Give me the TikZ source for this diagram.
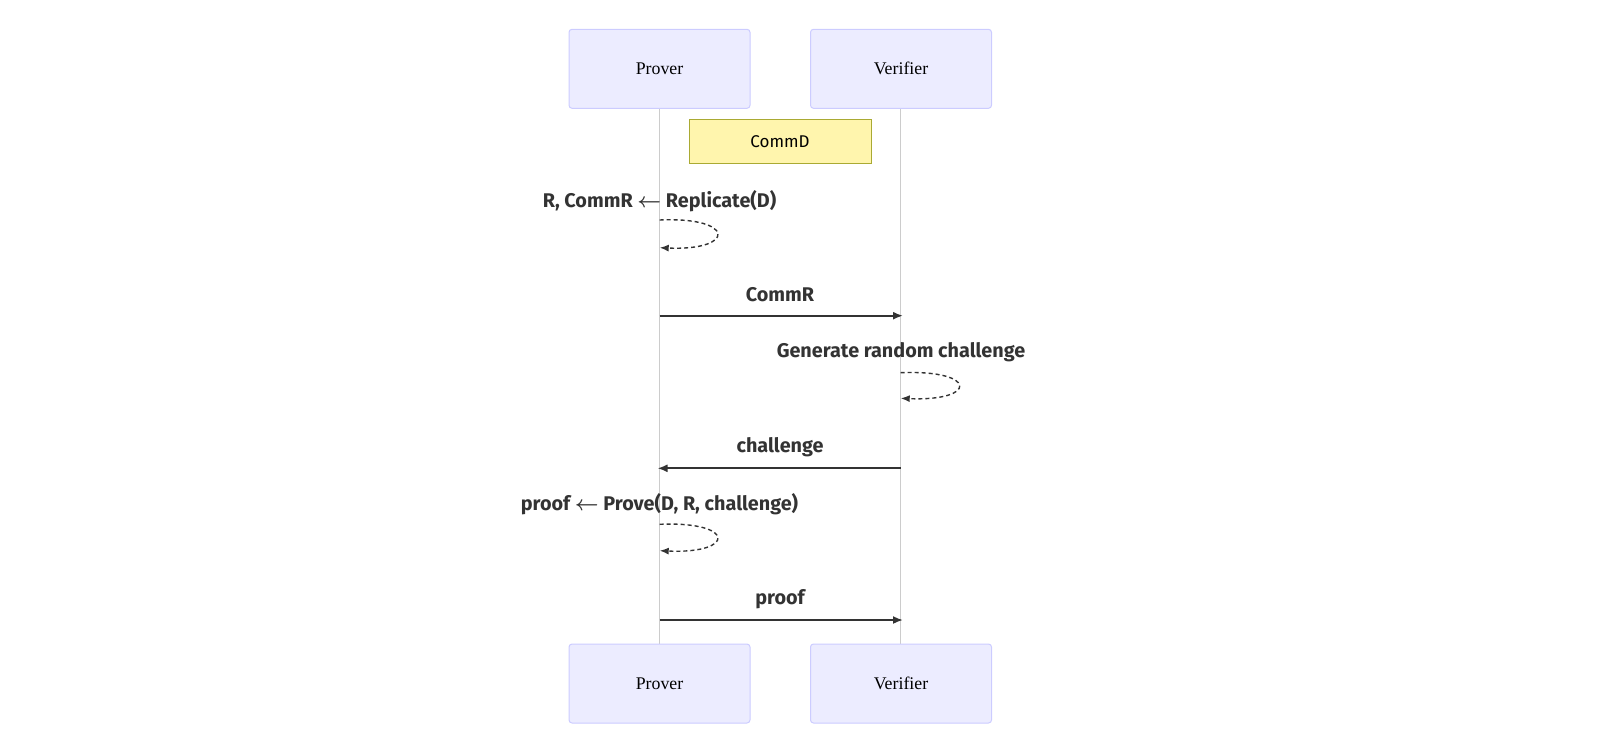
\documentclass[tikz,border=0pt]{standalone}
\usepackage{fontspec}
\setmainfont{Liberation Serif}
\newfontfamily\lblfont{Fira Sans}
\usetikzlibrary{arrows.meta}
\definecolor{actfill}{HTML}{ECECFF}
\definecolor{actline}{HTML}{CCCCFF}
\definecolor{lifeln}{HTML}{CCCCCC}
\definecolor{ink}{HTML}{333333}
\definecolor{notefill}{HTML}{FFF5AD}
\definecolor{noteline}{HTML}{AAAA33}
\tikzset{
  actor/.style={draw=actline, fill=actfill, rounded corners=3pt, line width=1pt,
    minimum width=181pt, minimum height=79pt, inner sep=0pt,
    font=\fontsize{17.8}{20}\selectfont, text=black},
  life/.style={draw=lifeln, line width=1.2pt},
  msg/.style={draw=ink, line width=1.8pt, -{Latex[length=10pt,width=8pt]}},
  selfmsg/.style={draw=ink, line width=1.4pt, dash pattern=on 4pt off 3pt, -{Latex[length=9pt,width=7pt]}},
  lbl/.style={font=\lblfont\bfseries\fontsize{19.8}{22}\selectfont, text=ink, inner sep=0pt},
  notebox/.style={draw=noteline, fill=notefill, line width=1pt, minimum width=182pt,
    minimum height=43.7pt, inner sep=0pt, font=\lblfont\fontsize{17}{20}\selectfont, text=black},
}
\newcommand{\larr}{{\boldmath\(\leftarrow\)}}
\begin{document}
\begin{tikzpicture}[x=1pt,y=-1pt]
\useasboundingbox (0,0) rectangle (1600,747);
% lifelines
\coordinate (pt) at (659.7,108);
\coordinate (pb) at (659.7,644);
\coordinate (vt) at (900.7,108);
\coordinate (vb) at (900.7,644);
\draw[life] (pt) -- (pb);
\draw[life] (vt) -- (vb);
% actors
\node[actor] (p1) at (659.5,68.8) {Prover};
\node[actor] (v1) at (901,68.8) {Verifier};
\node[actor] (p2) at (659.5,683.5) {Prover};
\node[actor] (v2) at (901,683.5) {Verifier};
% note
\node[notebox] (nd) at (780,141.8) {CommD};
% self message 1
\node[lbl] (l1) at (659.5,201) {R, CommR \larr{} Replicate(D)};
\coordinate (s1a) at (659.7,220);
\coordinate (s1b) at (659.7,247.7);
\draw[selfmsg] (s1a) .. controls (736,216.5) and (736,251) .. (s1b);
% CommR
\coordinate (m1a) at (659.7,315.7);
\coordinate (m1b) at (903,315.7);
\node[lbl] (l2) at (780,295) {CommR};
\draw[msg] (m1a) -- (m1b);
% self message 2
\node[lbl] (l3) at (901,352.3) {Generate random challenge};
\coordinate (s2a) at (900.7,372.7);
\coordinate (s2b) at (900.7,398.3);
\draw[selfmsg] (s2a) .. controls (978,369.5) and (978,401.5) .. (s2b);
% challenge
\coordinate (m2a) at (900.7,468.3);
\coordinate (m2b) at (657.5,468.3);
\node[lbl] (l4) at (780,446.7) {challenge};
\draw[msg] (m2a) -- (m2b);
% self message 3
\node[lbl] (l5) at (659.5,504.3) {proof \larr{} Prove(D, R, challenge)};
\coordinate (s3a) at (659.7,524.3);
\coordinate (s3b) at (659.7,550.7);
\draw[selfmsg] (s3a) .. controls (736,521) and (736,554) .. (s3b);
% proof
\coordinate (m3a) at (659.7,620);
\coordinate (m3b) at (903,620);
\node[lbl] (l6) at (780,599) {proof};
\draw[msg] (m3a) -- (m3b);
\end{tikzpicture}
\end{document}
